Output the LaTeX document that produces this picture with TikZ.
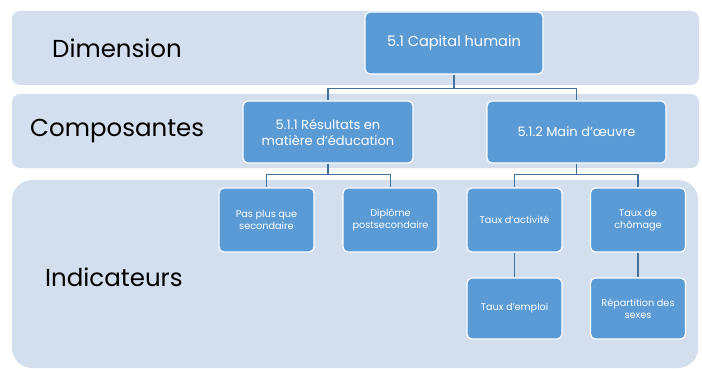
\documentclass[tikz,border=0pt]{standalone}
\usepackage{fontspec}
\setmainfont{Poppins}
\definecolor{bandc}{RGB}{211,222,239}
\definecolor{boxc}{RGB}{91,155,213}
\definecolor{linec}{RGB}{65,113,156}
\begin{document}
\begin{tikzpicture}[x=1pt,y=-1pt,
 box/.style={fill=boxc, draw=white, line width=1.2pt, rounded corners=5pt, text=white, align=center, inner sep=2pt},
 bigbox/.style={box, font=\fontsize{13}{16}\selectfont, minimum height=62pt},
 smallbox/.style={box, font=\fontsize{9.7}{12.5}\selectfont, minimum width=95pt},
 conn/.style={draw=linec, line width=1.1pt},
 lab/.style={anchor=west, font=\fontsize{24.5}{28}\selectfont, text=black, inner sep=0pt}]
\useasboundingbox (0,0) rectangle (702,369);
% bands
\fill[bandc, rounded corners=8pt] (12,11) rectangle (699,85);
\fill[bandc, rounded corners=8pt] (12,94) rectangle (699,168);
\fill[bandc, rounded corners=20pt] (12,180) rectangle (698,368);
% labels
\node[lab] (ldim) at (52,48) {Dimension};
\node[lab] (lcomp) at (30,131) {Composantes};
\node[lab] (lind) at (45,277) {Indicateurs};
% nodes
\node[bigbox, minimum width=178pt, font=\fontsize{14.5}{17}\selectfont] (cap) at (454,43) {5.1 Capital humain};
\node[bigbox, minimum width=170pt] (res) at (328,132) {5.1.1 Résultats en\\matière d'éducation};
\node[bigbox, minimum width=179pt] (main) at (576.5,132) {5.1.2 Main d'œuvre};
\node[smallbox, minimum height=64pt] (pas) at (266.5,220) {Pas plus que\\secondaire};
\node[smallbox, minimum height=64pt] (dip) at (390.5,220) {Diplôme\\postsecondaire};
\node[smallbox, minimum height=64pt] (act) at (514.5,220) {Taux d'activité};
\node[smallbox, minimum height=64pt] (cho) at (638,220) {Taux de\\chômage};
\node[smallbox, minimum height=61pt] (emp) at (514.5,308.5) {Taux d'emploi};
\node[smallbox, minimum height=61pt] (rep) at (638,308.5) {Répartition des\\sexes};
% connectors
\draw[conn] (cap.south) -- ++(0,14) -| (res.north);
\draw[conn] (cap.south) -- ++(0,14) -| (main.north);
\draw[conn] (res.south) -- ++(0,11) -| (pas.north);
\draw[conn] (res.south) -- ++(0,11) -| (dip.north);
\draw[conn] (main.south) -- ++(0,11) -| (act.north);
\draw[conn] (main.south) -- ++(0,11) -| (cho.north);
\draw[conn] (act.south) -- (emp.north);
\draw[conn] (cho.south) -- (rep.north);
\end{tikzpicture}
\end{document}
